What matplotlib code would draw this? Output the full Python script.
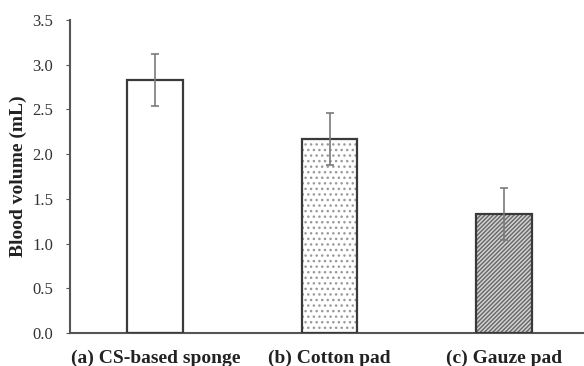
import numpy as np
import matplotlib.pyplot as plt

labels = ["(a) CS-based sponge", "(b) Cotton pad", "(c) Gauze pad"]
volume = [2.83, 2.17, 1.33]
err = [0.29, 0.29, 0.29]
faces = ["white", "white", "#d2d2d2"]
hatches = [None, "...", "////////"]
hatch_cols = ["#888888", "#9a9a9a", "#666666"]

plt.rcParams['font.family'] = ['Liberation Serif', 'DejaVu Serif']

fig = plt.figure(figsize=(5.84, 3.66), dpi=100)
ax = fig.add_axes([70/584, 33/366, 1 - 70/584, 313/366])
x = np.arange(len(labels))

# hatch layer first (hatch colour follows edgecolor), then outline
for i in range(len(x)):
    ax.bar(x[i], volume[i], width=0.32, color=faces[i], hatch=hatches[i],
           edgecolor=hatch_cols[i], linewidth=0, zorder=2)
ax.bar(x, volume, width=0.32, fill=False, edgecolor="#3a3a3a", linewidth=1.6, zorder=3)
ax.errorbar(x, volume, yerr=err, fmt="none", ecolor="#7a7a7a", elinewidth=1.2,
            capsize=3, capthick=1.2, zorder=4)

ax.set_xlim(-0.49, 2.46)
ax.set_ylim(0, 3.5)
ax.set_yticks(np.arange(0, 3.51, 0.5))
ax.set_yticklabels(["%.1f" % v for v in np.arange(0, 3.51, 0.5)], fontsize=12, color="#333333")
ax.set_xticks(x)
ax.set_xticklabels(labels, fontsize=14, fontweight="bold", color="#222222")
ax.tick_params(axis="x", length=0, pad=12)
ax.tick_params(axis="y", direction="out", length=3, color="#555555", pad=9)
ax.set_ylabel("Blood volume (mL)", fontsize=14, fontweight="bold", color="#222222", labelpad=4)
for s in ["top", "right"]:
    ax.spines[s].set_visible(False)
for s in ["left", "bottom"]:
    ax.spines[s].set_color("#555555")
    ax.spines[s].set_linewidth(1.5)

fig.savefig("out.png", dpi=100)
